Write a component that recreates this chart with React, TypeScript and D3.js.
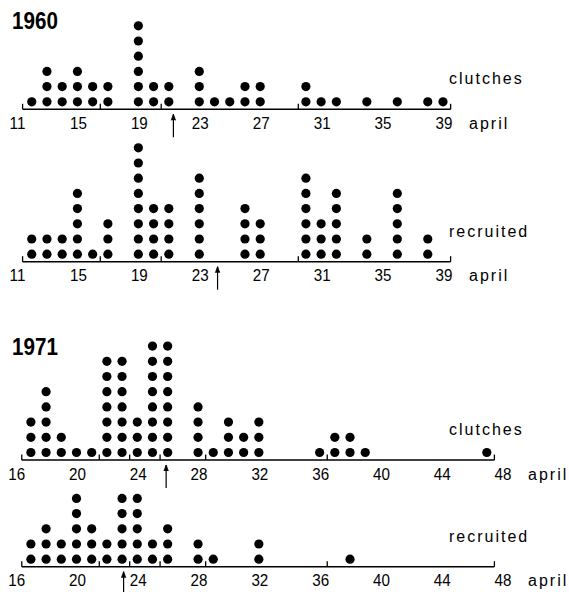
import * as d3 from 'd3'
import * as React from 'react'

// 1960 — day of april (days > 30 run on into may)
const days1960Clutches = [12, 13, 14, 15, 16, 17, 19, 20, 21, 23, 24, 25, 26, 27, 30, 31, 32, 34, 36, 38, 39]
const counts1960Clutches = [1, 3, 2, 3, 2, 2, 6, 2, 2, 3, 1, 1, 2, 2, 2, 1, 1, 1, 1, 1, 1]
const days1960Recruited = [12, 13, 14, 15, 16, 17, 19, 20, 21, 23, 26, 27, 30, 31, 32, 34, 36, 38]
const counts1960Recruited = [2, 2, 2, 5, 1, 3, 8, 4, 4, 6, 4, 3, 6, 3, 5, 2, 5, 2]

// 1971
const days1971Clutches = [17, 18, 19, 20, 21, 22, 23, 24, 25, 26, 28, 29, 30, 31, 32, 36, 37, 38, 39, 47]
const counts1971Clutches = [3, 5, 2, 1, 1, 7, 7, 3, 8, 8, 4, 1, 3, 2, 3, 1, 2, 2, 1, 1]
const days1971Recruited = [17, 18, 19, 20, 21, 22, 23, 24, 25, 26, 28, 29, 32, 38]
const counts1971Recruited = [2, 3, 2, 5, 3, 2, 5, 5, 2, 3, 2, 1, 2, 1]

const ticks1960 = [11, 15, 19, 23, 27, 31, 35, 39]
const ticks1971 = [16, 20, 24, 28, 32, 36, 40, 44, 48]
const weekMarks1960 = [11.4, 16.5, 20.5, 29.5, 39.5]
const weekMarks1971 = [16.4, 21.5, 23.5, 25.5, 28.5, 36.5, 47.5]

// mean dates (arrows)
const arrow1960Clutches = 21.3
const arrow1960Recruited = 24.2
const arrow1971Clutches = 25.9
const arrow1971Recruited = 23.1

type Panel = {
  days: number[]
  counts: number[]
  ticks: number[]
  marks: number[]
  arrow: number
  label: string
  baseline: number
  x: d3.ScaleLinear<number, number>
}

const W = 569
const H = 592

export default function App() {
  const node = React.useRef<SVGSVGElement>(null)

  React.useEffect(() => {
    const svg = d3.select(node.current)
    svg.selectAll('*').remove()

    const x1960 = d3.scaleLinear().domain([11, 39]).range([16.5, 443])
    const x1971 = d3.scaleLinear().domain([16, 48]).range([15.7, 502])
    const step = 15.2
    const r = 4.6

    const panels: Panel[] = [
      { days: days1960Clutches, counts: counts1960Clutches, ticks: ticks1960, marks: weekMarks1960,
        arrow: arrow1960Clutches, label: 'clutches', baseline: 109.3, x: x1960 },
      { days: days1960Recruited, counts: counts1960Recruited, ticks: ticks1960, marks: weekMarks1960,
        arrow: arrow1960Recruited, label: 'recruited', baseline: 261.7, x: x1960 },
      { days: days1971Clutches, counts: counts1971Clutches, ticks: ticks1971, marks: weekMarks1971,
        arrow: arrow1971Clutches, label: 'clutches', baseline: 460, x: x1971 },
      { days: days1971Recruited, counts: counts1971Recruited, ticks: ticks1971, marks: weekMarks1971,
        arrow: arrow1971Recruited, label: 'recruited', baseline: 566.7, x: x1971 },
    ]

    const font = '"Liberation Sans", Arial, sans-serif'

    panels.forEach(p => {
      const g = svg.append('g')
      const x = p.x
      const y0 = p.baseline

      // dot stacks
      const dots: { d: number, k: number }[] = []
      p.days.forEach((d, i) => d3.range(p.counts[i]).forEach(k => dots.push({ d, k })))
      g.selectAll('circle.dot')
        .data(dots)
        .enter()
        .append('circle')
        .attr('cx', e => x(e.d))
        .attr('cy', e => y0 - 7.5 - e.k * step)
        .attr('r', r)
        .attr('fill', '#000')

      // baseline + week marks
      const first = p.marks[0]
      const last = p.marks[p.marks.length - 1]
      g.append('line')
        .attr('x1', x(first)).attr('x2', x(last))
        .attr('y1', y0).attr('y2', y0)
        .attr('stroke', '#000').attr('stroke-width', 1.4)
      g.selectAll('line.mark')
        .data(p.marks)
        .enter()
        .append('line')
        .attr('x1', d => x(d)).attr('x2', d => x(d))
        .attr('y1', y0).attr('y2', y0 - 5.5)
        .attr('stroke', '#000').attr('stroke-width', 1.3)

      // tick labels
      g.selectAll('text.tick')
        .data(p.ticks)
        .enter()
        .append('text')
        .attr('transform', d => 'translate(' + (x(d) + 1) + ',' + (y0 + 19.5) + ') scale(0.95,1)')
        .attr('text-anchor', 'middle')
        .style('font-family', font)
        .style('font-size', '16px')
        .text(d => String(d))

      const lastTick = p.ticks[p.ticks.length - 1]
      g.append('text')
        .attr('x', x(lastTick) + 26)
        .attr('y', y0 + 19.5)
        .style('font-family', font)
        .style('font-size', '16px')
        .style('letter-spacing', '2px')
        .text('april')

      g.append('text')
        .attr('x', 449)
        .attr('y', y0 - 25)
        .style('font-family', font)
        .style('font-size', '16px')
        .style('letter-spacing', '2px')
        .text(p.label)

      // mean arrow
      const ax = x(p.arrow)
      g.append('line')
        .attr('x1', ax).attr('x2', ax)
        .attr('y1', y0 + 5).attr('y2', y0 + 28)
        .attr('stroke', '#000').attr('stroke-width', 1.2)
      g.append('path')
        .attr('d', d3.line()([[ax - 2.2, y0 + 11], [ax, y0 + 5], [ax + 2.2, y0 + 11]]))
        .attr('fill', '#000').attr('stroke', '#000').attr('stroke-width', 0.8)
    })

    const titles: [string, number][] = [['1960', 29], ['1971', 355]]
    svg.selectAll('text.title')
      .data(titles)
      .enter()
      .append('text')
      .attr('transform', d => 'translate(12,' + d[1] + ') scale(0.86,1)')
      .style('font-family', font)
      .style('font-weight', 'bold')
      .style('font-size', '24px')
      .text(d => d[0])
  }, [])

  return (
    <svg ref={node} width={W} height={H}
      style={{ position: 'absolute', left: 0, top: 0, background: '#fff' }} />
  )
}
